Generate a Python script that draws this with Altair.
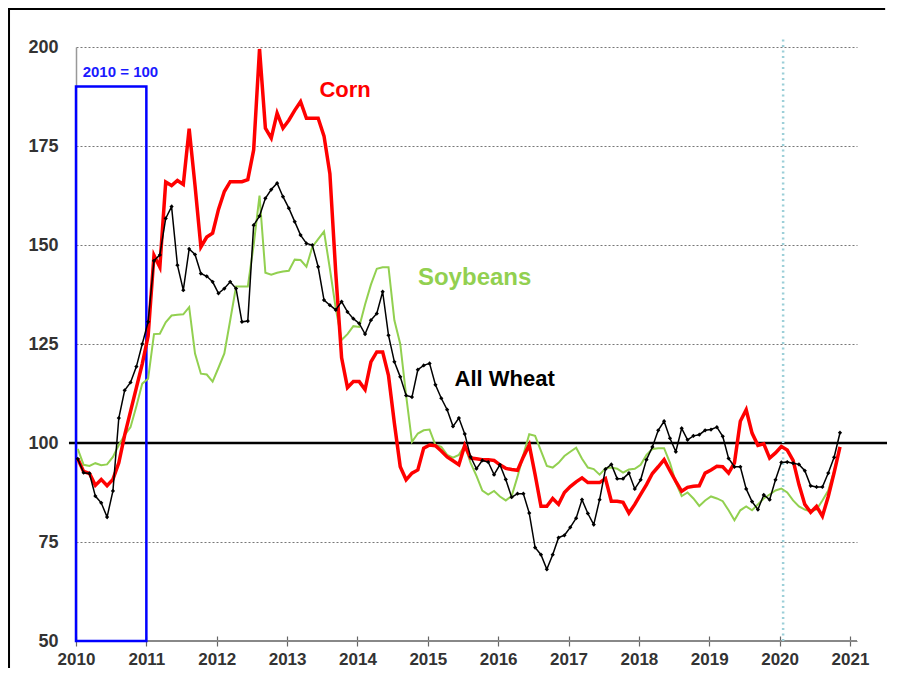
import altair as alt
import pandas as pd

# ---- data (monthly index, Jan 2010 .. Nov 2020; 2010 = 100) ----
corn = [
    96, 92.8, 92.3, 89.3, 90.8, 89.2, 90.8, 95, 102, 108, 114, 120,
    127, 147.4, 144.4, 165.9, 165, 166.3, 165.3, 179.4, 165, 149.5, 152, 153,
    159, 163.5, 166, 166, 166, 166.5, 174, 199.5, 179.5, 177, 183.3, 179.5,
    181.5, 184, 186.2, 182, 182, 182, 177.5, 168, 143, 121.5, 114, 115.5,
    115.5, 113.5, 120.5, 123, 123, 117, 105, 94, 90.7, 92.4, 93.2, 98.7,
    99.5, 99.3, 98, 96.5, 95.5, 94.5, 99.4, 96.2, 96, 95.8, 95.8, 95.6,
    94.5, 93.6, 93.3, 93.1, 96.5, 99.5, 92, 84, 84, 86, 84.5, 87.5,
    89, 90.2, 91.2, 90, 90, 90, 91, 85.3, 85.3, 85, 82.3, 84.5,
    87, 89.5, 92.3, 94, 95.8, 93, 90.3, 87.8, 88.8, 89.1, 89.2, 92.4,
    93.2, 94.1, 94, 92.4, 95, 105.5, 108.4, 102.5, 99.4, 99.8, 96.2, 97.5,
    99.1, 98.2, 95.6, 89.5, 84.5, 82.5, 84, 81.5, 86.5, 92.5, 99,
]
soybeans = [
    98.5, 94.5, 94.2, 94.9, 94.4, 94.6, 96.5, 99.5, 102, 104, 109.3, 115,
    116.2, 127.5, 127.6, 130.5, 132.2, 132.4, 132.5, 134.3, 122.6, 117.5, 117.3, 115.5,
    119, 122.6, 131, 139.5, 139.5, 139.5, 150, 162.5, 143, 142.5, 143, 143.3,
    143.5, 146.3, 146.2, 144.5, 149.5, 151.5, 153.4, 144, 134, 126, 127.5, 129.5,
    129.3, 135, 140, 144, 144.4, 144.4, 131, 125, 112, 100.3, 102.4, 103.2,
    103.4, 99.5, 99, 97, 96.3, 97, 99.4, 95, 91.7, 88, 87, 87.9,
    86.5, 85.5, 86.6, 91.5, 97, 102.2, 101.8, 98, 94.2, 93.8, 95, 96.7,
    97.8, 98.8, 96, 93.8, 93.4, 92, 93.6, 93.8, 93.5, 92.5, 93.3, 93.5,
    94.5, 97, 98.5, 98.7, 98.7, 95, 90, 86.6, 87.5, 86, 84.1, 85.5,
    86.5, 86, 85.3, 83, 80.5, 83, 84, 83, 84.5, 86, 87, 88,
    88.5, 87.5, 85.5, 84, 83.2, 82.7, 83.2, 85.5, 88, 93, 99,
]
wheat = [
    96, 92.5, 92.3, 86.6, 84.9, 81.3, 87.9, 106.3, 113.3, 115.3, 119.3, 125,
    130.6, 146, 147.5, 156.7, 159.7, 144.9, 138.6, 149, 147.6, 142.8, 142.1, 140.7,
    137.8, 139, 140.7, 139, 130.6, 130.8, 155, 157.3, 161.8, 164, 165.6, 162.2,
    159.3, 155.9, 152.5, 150.4, 150, 144.5, 136.1, 134.8, 133.6, 135.7, 133.1, 131.4,
    130.2, 127.5, 131, 132.7, 138.2, 127.2, 120.5, 116.7, 112, 111.6, 118.5, 119.6,
    120.1, 114.7, 111.3, 108.4, 104.2, 106.3, 102.3, 96.5, 93.5, 95.6, 95.2, 92,
    94.5, 90.8, 86.3, 87.2, 87.2, 82.3, 73.6, 71.8, 68.1, 71.8, 76.1, 76.7,
    78.7, 81, 85.7, 82.2, 79.4, 85.7, 93.4, 94.6, 91, 91, 92.4, 88.4,
    90.7, 95.8, 99, 103.2, 105.5, 101.2, 97.8, 103.7, 100.8, 101.8, 102.1, 103.2,
    103.4, 104, 101.7, 96.1, 94, 94, 88.4, 85.2, 83.2, 86.9, 85.7, 90.7,
    95.1, 95.2, 94.9, 94.6, 93, 89.2, 88.9, 88.9, 92.4, 96.4, 102.6,
]
start_year = 2010
year_ticks = list(range(2010, 2022))
y_ticks = [50, 75, 100, 125, 150, 175, 200]
base_year = [2010, 2011]          # blue box: base period
box_top = 190
covid_mark = 2020.05               # vertical dotted marker
label_text = ["Corn", "Soybeans", "All Wheat"]
label_x = [2013.46, 2014.86, 2015.38]
label_y = [187.4, 139.9, 114.4]
label_color = ["#FF0000", "#92D050", "#000000"]
label_size = [22, 24, 22]

n = len(wheat)
df = pd.DataFrame({
    "x": [start_year + (i + 0.3) / 12 for i in range(n)],
    "corn": corn[:n], "soy": soybeans[:n], "wheat": wheat[:n],
})

FONT = "Liberation Sans"
W, H = 781, 594
PAD = {"left": 68, "top": 39, "right": 30, "bottom": 27}
xs = alt.Scale(domain=[2010, 2021.1], nice=False, zero=False)
ys = alt.Scale(domain=[50, 200], nice=False, zero=False)
xaxis = alt.Axis(values=year_ticks, format="d", title=None, grid=False, domain=False,
                 tickSize=10, offset=-5, tickColor="#666", tickWidth=1.2,
                 labelFontSize=17, labelFontWeight="bold", labelColor="#333",
                 labelFont=FONT, labelPadding=5, labelFlush=False)
yaxis = alt.Axis(values=y_ticks, title=None, grid=True, gridDash=[2, 2], gridColor="#777",
                 gridWidth=1, domain=True, domainColor="#999", domainWidth=1.5,
                 ticks=False, labelFontSize=18, labelFontWeight="bold", labelColor="#333",
                 labelFont=FONT, labelPadding=18)


def X(f):
    return alt.X(f, type="quantitative", scale=xs, axis=xaxis)


def Y(f):
    return alt.Y(f, type="quantitative", scale=ys, axis=yaxis)


box_df = pd.DataFrame({"x": [base_year[0]], "x2": [base_year[1]], "y": [50], "y2": [box_top]})
box = alt.Chart(box_df).mark_rect(fillOpacity=0, stroke="#0000FF", strokeWidth=2.5).encode(
    x=X("x"), x2="x2", y=Y("y"), y2="y2")
box_label = alt.Chart(pd.DataFrame({"x": [2010.095], "y": [192.5]})).mark_text(
    text="2010 = 100", color="#1a1aff", fontSize=15, fontWeight="bold", font=FONT,
    align="left", baseline="alphabetic").encode(x=X("x"), y=Y("y"))

axis_line = alt.Chart(pd.DataFrame({"x": [2010, 2021.1], "y": [50, 50]})).mark_line(
    color="#888", strokeWidth=2).encode(x=X("x"), y=Y("y"))
hundred = alt.Chart(pd.DataFrame({"x": [2009.9, 2021.55], "y": [100, 100]})).mark_line(
    color="black", strokeWidth=2.5).encode(x=X("x"), y=Y("y"))
vline = alt.Chart(pd.DataFrame({"x": [covid_mark, covid_mark], "y": [50, 202.5]})).mark_line(
    color="#9ccfd8", strokeWidth=2.5, strokeDash=[2, 3.5]).encode(x=X("x"), y=Y("y"))

soy_line = alt.Chart(df).mark_line(color="#92D050", strokeWidth=2).encode(x=X("x"), y=Y("soy"))
corn_line = alt.Chart(df).mark_line(color="#FF0000", strokeWidth=3.5).encode(x=X("x"), y=Y("corn"))
wheat_line = alt.Chart(df).mark_line(color="black", strokeWidth=1.5).encode(x=X("x"), y=Y("wheat"))
wheat_pts = alt.Chart(df).mark_point(shape="diamond", filled=True, size=18, color="black",
                                     opacity=1).encode(x=X("x"), y=Y("wheat"))

labels = []
for t, lx, ly, c, s in zip(label_text, label_x, label_y, label_color, label_size):
    labels.append(alt.Chart(pd.DataFrame({"x": [lx], "y": [ly]})).mark_text(
        text=t, color=c, fontSize=s, fontWeight="bold", font=FONT,
        align="left", baseline="alphabetic").encode(x=X("x"), y=Y("y")))

# outer frame: left and top edges (as in the reference), drawn as two-point lines
frame_left = alt.Chart(pd.DataFrame({"x": [2009.048, 2009.048], "y": [209.85, 43.2]})).mark_line(
    color="black", strokeWidth=2).encode(x=X("x"), y=Y("y"))
frame_top = alt.Chart(pd.DataFrame({"x": [2009.034, 2021.5], "y": [209.6, 209.6]})).mark_line(
    color="black", strokeWidth=2).encode(x=X("x"), y=Y("y"))

chart = alt.layer(
    hundred, axis_line, vline, box, box_label, soy_line, corn_line, wheat_line, wheat_pts,
    *labels, frame_left, frame_top
).properties(
    width=W, height=H,
    padding=PAD,
    autosize=alt.AutoSizeParams(type="none"),
    background="white",
).configure_view(stroke=None)

chart.save("out.html", embed_options={"renderer": "svg", "actions": False})
